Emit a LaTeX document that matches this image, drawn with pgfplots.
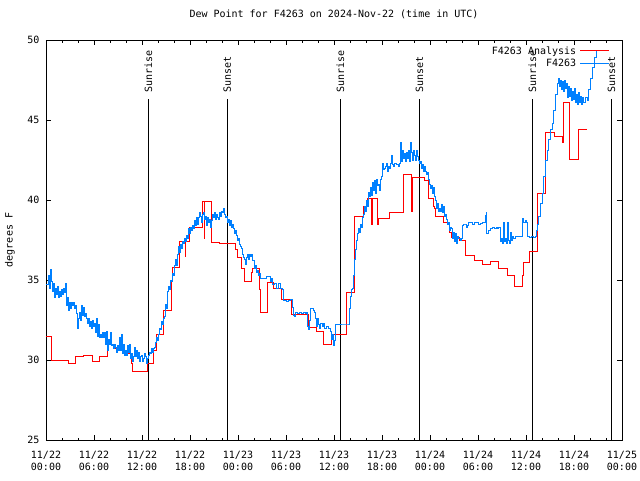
\documentclass[border=0pt]{standalone}
\usepackage{fontspec}
\setmainfont{DejaVu Sans Mono}
\usepackage{pgfplots}
\pgfplotsset{compat=1.18}
\definecolor{gpred}{RGB}{255,0,0}
\definecolor{gpblue}{RGB}{0,128,255}
\newcommand\gpfont{\fontsize{10}{11.7}\selectfont}

\begin{document}
\begin{tikzpicture}
\path[use as bounding box] (-46pt,-40pt) rectangle (594pt,440pt);
\begin{axis}[
    at={(0pt,0pt)}, anchor=south west,
    scale only axis, width=576pt, height=400pt,
    xmin=0, xmax=72, ymin=25, ymax=50,
    xtick={0,6,...,72}, minor x tick num=2,
    ytick={25,30,...,50},
    xticklabels={{11/22\\00:00},{11/22\\06:00},{11/22\\12:00},{11/22\\18:00},
                 {11/23\\00:00},{11/23\\06:00},{11/23\\12:00},{11/23\\18:00},
                 {11/24\\00:00},{11/24\\06:00},{11/24\\12:00},{11/24\\18:00},
                 {11/25\\00:00}},
    xticklabel style={font=\gpfont, align=center, inner sep=0pt, anchor=north, yshift=-11pt},
    yticklabel style={font=\gpfont, inner sep=0pt, anchor=east, xshift=-6.5pt},
    /pgf/number format/assume math mode=true,
    tick align=inside,
    major tick length=5pt, minor tick length=2.5pt,
    every tick/.style={black, line width=0.8pt},
    axis line style={black, line width=0.8pt},
    title={Dew Point for F4263 on 2024-Nov-22 (time in UTC)},
    title style={font=\gpfont, at={(0.5,1)}, anchor=base, yshift=17pt, inner sep=0pt},
    ylabel={degrees F},
    ylabel style={font=\gpfont, at={(-0.0625,0.5)}, anchor=center, inner sep=0pt},
    legend style={at={(0.979,0.987)}, anchor=north east, draw=none, fill=none,
                  font=\gpfont, inner sep=0pt, row sep=1.2pt, column sep=2.5pt,
                  nodes={inner sep=1pt}},
    legend cell align=right,
    legend plot pos=right,
    legend image code/.code={\draw[#1] (0pt,0pt) -- (29pt,0pt);},
]
% sunrise / sunset markers
\draw[black, line width=0.8pt] (axis cs:12.79,25) -- (axis cs:12.79,46.31);
\draw[black, line width=0.8pt] (axis cs:22.67,25) -- (axis cs:22.67,46.31);
\draw[black, line width=0.8pt] (axis cs:36.8,25) -- (axis cs:36.8,46.31);
\draw[black, line width=0.8pt] (axis cs:46.7,25) -- (axis cs:46.7,46.31);
\draw[black, line width=0.8pt] (axis cs:60.8,25) -- (axis cs:60.8,46.31);
\draw[black, line width=0.8pt] (axis cs:70.7,25) -- (axis cs:70.7,46.31);
\node[rotate=90, anchor=west, font=\gpfont, inner sep=0pt] at (axis cs:12.79,46.69) {Sunrise};
\node[rotate=90, anchor=west, font=\gpfont, inner sep=0pt] at (axis cs:22.67,46.69) {Sunset};
\node[rotate=90, anchor=west, font=\gpfont, inner sep=0pt] at (axis cs:36.8,46.69) {Sunrise};
\node[rotate=90, anchor=west, font=\gpfont, inner sep=0pt] at (axis cs:46.7,46.69) {Sunset};
\node[rotate=90, anchor=west, font=\gpfont, inner sep=0pt] at (axis cs:60.8,46.69) {Sunrise};
\node[rotate=90, anchor=west, font=\gpfont, inner sep=0pt] at (axis cs:70.7,46.69) {Sunset};

% hourly analysis
\addplot[const plot, gpred, line width=1pt] table {
0 31.5
0.75 30.0
2.79 29.8
3.75 30.2
4.75 30.3
5.79 29.9
6.75 30.2
7.75 31.0
8.75 30.7
9.75 30.4
10.63 29.8
10.84 29.3
12.75 29.8
13.5 30.6
13.875 31.6
14.75 33.1
15.63 35.0
15.84 35.8
16.75 37.4
17.41 36.5
17.5 37.4
17.91 38.3
19.59 39.9
19.79 37.6
19.875 39.9
20.75 37.35
21.63 37.3
23.75 36.9
24.0 36.4
24.5 35.7
24.79 34.9
25.66 35.5
25.875 35.7
26.63 34.4
26.79 33.0
27.66 34.86
28.41 34.5
29.46 33.8
30.71 32.86
32.79 32.04
33.84 31.8
34.66 31.0
35.71 31.6
37.625 34.2
38.54 39.0
39.75 39.6
40.16 40.1
40.75 38.5
40.875 40.1
41.46 38.5
41.56 38.85
42.91 39.2
44.75 41.6
45.71 39.3
45.84 41.4
47.375 41.25
47.79 40.1
48.41 39.6
48.59 39.5
48.66 38.96
49.66 38.6
50.5 37.96
50.66 37.67
51.66 37.44
52.5 36.56
53.625 36.2
54.54 36.0
55.59 36.15
56.54 35.7
57.66 35.3
58.625 34.6
59.54 35.3
59.66 36.1
60.5 36.8
61.46 40.4
62.5 44.2
63.625 44.0
64.54 43.6
64.75 46.1
65.5 42.56
66.56 44.4
67.59 44.4
};
\addlegendentry{F4263 Analysis}

% observations
\addplot[const plot, gpblue, line width=0.85pt] table {
0.06 34.7
0.25 35.3
0.375 34.5
0.54 35.67
0.625 34.9
0.75 34.3
0.875 34.8
1.0 33.9
1.125 34.5
1.25 34.1
1.375 34.6
1.5 33.9
1.625 34.3
1.75 34.0
1.875 34.4
2.0 34.1
2.125 34.5
2.25 34.2
2.375 34.8
2.5 33.4
2.625 33.9
2.75 33.1
2.875 33.6
3.0 33.2
3.125 33.6
3.25 33.4
3.375 33.6
3.5 33.2
3.625 33.4
3.75 32.9
3.875 32.0
4.0 32.6
4.125 33.0
4.25 32.5
4.375 33.4
4.5 32.8
4.625 33.3
4.75 32.7
4.875 32.9
5.0 32.6
5.125 32.3
5.25 32.6
5.375 32.1
5.5 32.4
5.625 32.0
5.75 32.5
5.875 32.1
6.0 32.3
6.125 31.7
6.25 32.6
6.375 31.5
6.5 32.2
6.625 31.4
6.75 31.6
6.875 31.4
7.0 31.7
7.125 31.4
7.25 31.7
7.375 31.0
7.5 31.8
7.625 30.6
7.75 31.3
7.875 31.0
8.0 31.7
8.125 30.9
8.25 31.0
8.375 30.7
8.5 31.0
8.625 30.8
8.75 30.5
8.875 30.9
9.0 30.6
9.125 31.4
9.25 30.6
9.375 31.6
9.5 30.4
9.625 31.0
9.75 30.3
9.875 30.6
10.0 30.3
10.125 30.9
10.25 30.5
10.375 31.0
10.5 30.1
10.625 30.4
10.75 29.9
10.875 30.2
11.0 30.8
11.125 30.2
11.25 30.6
11.375 30.1
11.5 30.5
11.625 29.9
11.75 30.2
11.875 30.3
12.0 29.9
12.125 30.1
12.25 30.4
12.375 30.2
12.5 29.8
12.625 30.1
12.75 30.3
12.875 30.5
13.0 30.4
13.125 30.7
13.25 30.5
13.375 30.7
13.5 30.8
13.625 31.1
13.75 31.4
13.875 31.2
14.0 31.6
14.125 32.0
14.25 31.9
14.375 32.4
14.5 32.2
14.625 32.6
14.75 32.7
14.875 33.5
15.0 33.2
15.125 34.3
15.25 34.6
15.375 34.4
15.5 35.0
15.625 34.9
15.75 35.4
15.875 35.3
16.0 35.9
16.125 36.3
16.25 35.9
16.375 36.6
16.5 37.1
16.625 36.7
16.75 37.2
16.875 37.0
17.0 37.4
17.125 37.3
17.25 37.6
17.375 37.4
17.5 37.8
17.625 37.6
17.75 38.2
17.875 37.9
18.0 38.3
18.125 38.1
18.25 38.4
18.375 38.2
18.5 38.7
18.625 38.4
18.75 38.9
18.875 38.5
19.0 38.9
19.125 39.2
19.25 39.0
19.375 38.6
19.5 39.1
19.625 39.2
19.75 38.8
19.875 39.0
20.0 38.4
20.125 38.9
20.25 38.6
20.375 38.8
20.5 38.3
20.625 38.7
20.75 39.1
20.875 38.9
21.0 39.2
21.125 38.8
21.25 39.1
21.375 38.9
21.5 38.8
21.625 39.2
21.75 39.0
21.875 39.3
22.0 39.2
22.125 39.5
22.25 39.1
22.375 38.9
22.5 39.0
22.625 38.6
22.75 38.8
22.875 38.4
23.0 38.7
23.125 38.3
23.25 38.5
23.375 38.2
23.5 37.9
23.625 38.1
23.75 37.8
23.875 37.5
24.0 37.6
24.125 37.2
24.25 37.1
24.375 37.0
24.5 36.6
24.625 36.4
24.75 36.3
24.875 36.0
25.0 36.4
25.125 36.6
25.25 36.3
25.375 36.6
25.5 36.5
25.625 36.6
25.75 36.25
25.875 36.2
26.0 35.7
26.125 35.9
26.25 35.5
26.375 35.6
26.5 35.3
26.625 35.4
26.75 35.1
27.0 35.1
27.25 35.1
27.5 35.2
27.75 35.2
28.0 34.9
28.125 35.1
28.25 34.7
28.5 34.8
28.75 34.5
29.0 34.8
29.25 34.5
29.5 34.4
29.625 33.7
29.75 33.7
30.0 33.65
30.25 33.7
30.5 33.8
30.625 33.8
30.75 33.3
30.875 32.8
31.0 32.7
31.125 33.0
31.375 32.9
31.625 33.0
31.875 32.9
32.125 33.0
32.375 32.9
32.59 33.0
32.625 32.1
32.75 31.9
32.875 32.5
33.0 33.2
33.25 33.2
33.375 33.1
33.5 33.0
33.625 32.6
33.75 32.1
33.875 32.6
34.0 32.2
34.125 32.0
34.25 32.3
34.5 32.1
34.625 32.3
34.75 32.0
35.0 32.1
35.25 32.0
35.5 31.8
35.625 31.3
35.75 31.6
35.875 30.9
36.0 31.2
36.125 32.25
37.75 32.25
37.875 33.2
38.0 34.0
38.125 34.4
38.25 34.5
38.375 35.3
38.5 36.3
38.625 36.9
38.75 37.5
38.875 37.9
39.0 38.2
39.125 38.0
39.25 38.5
39.375 38.3
39.5 38.9
39.625 39.1
39.75 39.6
39.875 39.3
40.0 40.0
40.125 39.6
40.25 40.5
40.375 40.2
40.5 40.8
40.625 40.3
40.75 41.1
40.875 40.6
41.0 41.2
41.125 40.4
41.25 41.3
41.375 40.9
41.5 41.0
41.625 40.6
41.75 41.3
41.875 41.5
42.0 42.3
42.125 41.9
42.25 42.0
42.375 42.1
42.5 42.3
42.625 41.8
42.75 42.1
42.875 42.0
43.0 42.3
43.125 42.8
43.25 42.2
43.375 42.1
43.5 42.3
43.75 42.2
44.0 42.1
44.125 42.3
44.25 43.6
44.375 42.4
44.5 43.1
44.625 42.6
44.75 42.9
44.875 42.4
45.0 43.0
45.125 42.6
45.25 43.1
45.375 42.4
45.5 43.6
45.625 43.0
45.75 42.5
45.875 43.1
46.0 42.8
46.125 42.5
46.25 43.1
46.375 42.7
46.5 42.5
46.625 42.3
46.75 42.4
46.875 42.0
47.0 42.2
47.125 41.8
47.25 42.1
47.375 41.8
47.5 41.6
47.625 41.7
47.75 41.3
47.875 41.0
48.0 40.7
48.125 40.9
48.25 40.4
48.375 40.8
48.5 40.2
48.625 40.0
48.75 39.5
48.875 39.8
49.0 39.3
49.125 39.5
49.25 39.3
49.375 39.7
49.5 39.2
49.625 39.6
49.75 38.96
49.875 39.1
50.0 38.8
50.125 38.5
50.25 38.6
50.375 38.1
50.5 38.3
50.625 38.2
50.75 37.6
50.875 38.0
51.0 37.4
51.125 37.9
51.25 37.3
51.375 37.7
51.5 37.6
51.625 37.6
51.75 37.5
51.875 37.6
52.0 38.4
52.125 38.5
52.375 38.5
52.5 38.3
52.625 38.4
52.75 38.6
53.0 38.6
53.25 38.5
53.5 38.6
53.75 38.6
54.0 38.5
54.25 38.55
54.5 38.6
54.75 38.6
54.875 39.06
55.0 39.2
55.09 37.9
55.25 38.1
55.5 38.2
55.75 38.3
56.0 38.2
56.25 38.3
56.375 38.2
56.5 38.3
56.75 37.4
56.875 37.6
57.0 37.3
57.125 38.6
57.25 37.4
57.375 37.6
57.5 37.3
57.625 38.6
57.75 37.5
57.875 37.3
58.0 38.0
58.125 37.5
58.25 37.7
58.375 37.6
58.625 37.7
58.875 37.7
59.125 37.7
59.375 37.7
59.5 38.85
59.625 38.6
59.875 38.7
60.0 38.6
60.125 37.7
60.375 37.67
60.625 37.7
60.875 37.67
61.125 37.7
61.25 38.1
61.375 38.5
61.5 39.0
61.75 39.8
62.0 40.4
62.125 41.5
62.375 42.5
62.625 43.1
62.75 43.8
63.0 44.4
63.25 44.8
63.375 45.6
63.625 46.6
63.875 47.3
64.0 47.6
64.125 47.1
64.25 47.5
64.375 46.9
64.5 47.4
64.625 46.8
64.75 47.5
64.875 47.0
65.0 47.3
65.125 46.4
65.25 47.1
65.375 46.5
65.5 47.0
65.625 46.2
65.75 46.8
65.875 46.3
66.0 47.0
66.125 46.1
66.25 46.6
66.375 46.0
66.5 46.7
66.625 46.1
66.75 46.5
66.875 46.0
67.0 46.4
67.125 46.1
67.375 46.4
67.625 46.25
67.75 46.9
68.0 47.6
68.25 48.3
68.5 48.9
68.75 49.4
};
\addlegendentry{F4263}
\end{axis}
\end{tikzpicture}
\end{document}
